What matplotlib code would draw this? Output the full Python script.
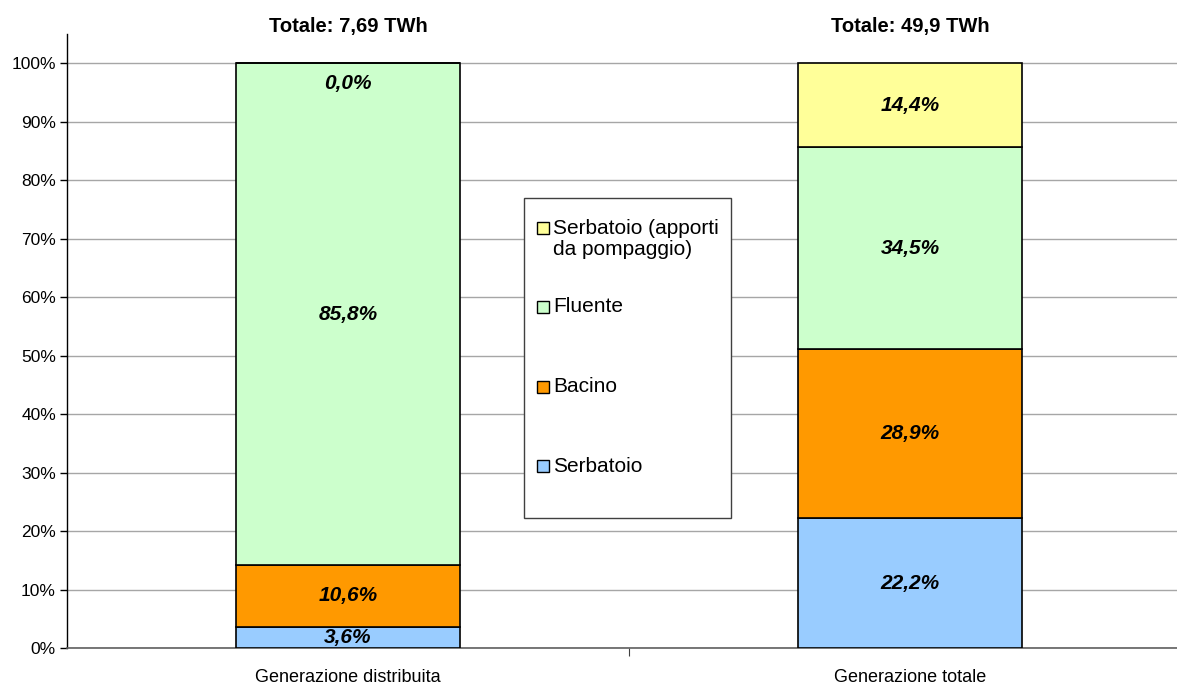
import matplotlib.pyplot as plt
from matplotlib.patches import Rectangle

plt.rcParams['font.family'] = ['Liberation Sans', 'DejaVu Sans']

categories = ['Generazione distribuita', 'Generazione totale']
totals = ['Totale: 7,69 TWh', 'Totale: 49,9 TWh']
series = ['Serbatoio', 'Bacino', 'Fluente', 'Serbatoio (apporti\nda pompaggio)']
colors = ['#99CCFF', '#FF9900', '#CCFFCC', '#FFFF99']
serbatoio = [3.6, 22.2]
bacino = [10.6, 28.9]
fluente = [85.8, 34.5]
pompaggio = [0.0, 14.4]
values = [serbatoio, bacino, fluente, pompaggio]

W, H = 1177, 685
fig = plt.figure(figsize=(W / 100, H / 100), dpi=100)
ax = fig.add_axes([67 / W, 37 / H, (1191 - 67) / W, (648 - 34) / H])

x = [0.5, 1.5]
bottom = [0.0, 0.0]
for vals, col in zip(values, colors):
    ax.bar(x, vals, width=0.4, bottom=bottom, color=col, edgecolor='black',
           linewidth=1.2, zorder=3)
    for i in range(len(x)):
        if vals[i] > 0:
            yc = bottom[i] + vals[i] / 2
        else:
            yc = bottom[i] - 3.4
        ax.text(x[i], yc, f'{vals[i]:.1f}%'.replace('.', ','), ha='center',
                va='center', fontsize=15, fontweight='bold', fontstyle='italic',
                zorder=4)
    bottom = [b + v for b, v in zip(bottom, vals)]

for i, t in enumerate(totals):
    ax.text(x[i], 106.3, t, ha='center', va='center', fontsize=14.5,
            fontweight='bold')

ax.set_xlim(0, 2)
ax.set_ylim(0, 105)
ax.set_yticks(range(0, 101, 10))
ax.set_yticklabels([f'{v}%' for v in range(0, 101, 10)], fontsize=12.5)
ax.set_xticks([1])
ax.set_xticklabels([''])
for i, c in enumerate(categories):
    ax.text(x[i], -5.1, c, ha='center', va='center', fontsize=13)
ax.tick_params(axis='y', length=5, width=1, pad=3)
ax.tick_params(axis='x', length=6, width=0.8, color='#404040')
ax.yaxis.grid(True, color='#A6A6A6', linewidth=1)
ax.set_axisbelow(True)
for s in ['top', 'right']:
    ax.spines[s].set_visible(False)
ax.spines['left'].set_linewidth(1)
ax.spines['bottom'].set_color('#606060')
ax.spines['bottom'].set_linewidth(1.2)

# legend box drawn in figure pixels
fig.patches.append(Rectangle((524 / W, 1 - 518 / H), 207 / W, 320 / H,
                             transform=fig.transFigure, facecolor='white',
                             edgecolor='#404040', linewidth=1, zorder=5))
ys = [466, 387, 307, 239]
for name, col, yy in zip(series, colors, ys):
    ym = 228 if '\n' in name else yy
    fig.patches.append(Rectangle((537 / W, 1 - (ym + 6) / H), 12 / W, 12 / H,
                                 transform=fig.transFigure, facecolor=col,
                                 edgecolor='black', linewidth=1, zorder=6))
    fig.text(553 / W, 1 - yy / H, name, ha='left', va='center', fontsize=15,
             linespacing=1.08, zorder=7)

fig.savefig('out.png', dpi=100)
